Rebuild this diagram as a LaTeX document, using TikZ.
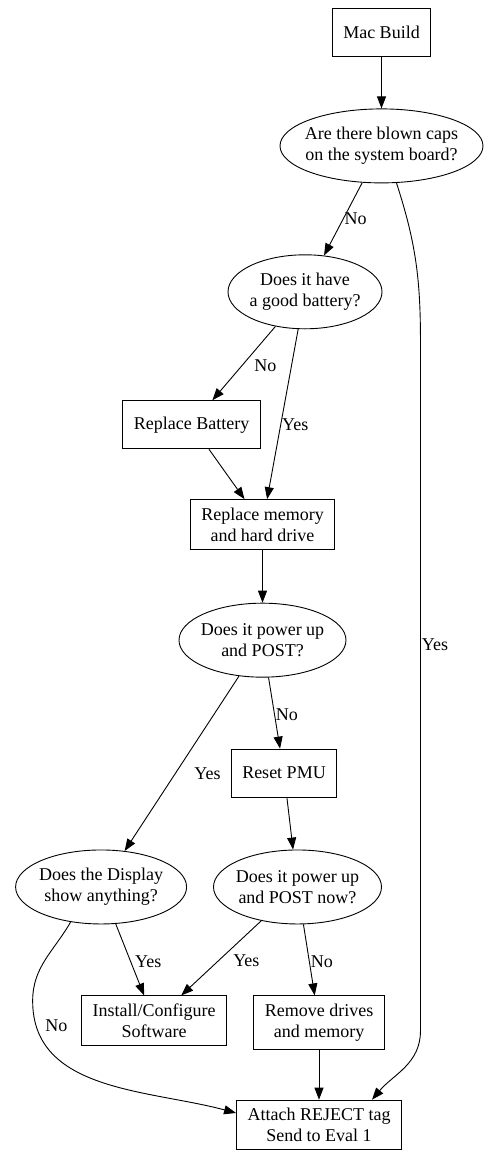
\documentclass[tikz,border=0pt]{standalone}
\usepackage{fontspec}
\setmainfont{Liberation Serif}
\usetikzlibrary{shapes.geometric, arrows.meta, positioning}

\begin{document}
\begin{tikzpicture}[
    every node/.style={font=\fontsize{18pt}{21pt}\selectfont},
    stepbox/.style={draw, rectangle, align=center, inner xsep=11pt, inner ysep=8pt, minimum height=48pt, line width=0.9pt},
    question/.style={draw, ellipse, inner sep=0pt, minimum height=74pt, line width=0.9pt, label={[align=center]center:#1}},
    link/.style={-{Triangle[length=12pt, width=9pt]}, line width=0.9pt},
    answer/.style={inner sep=1pt}
]
    \useasboundingbox (0,0) rectangle (491pt,-1159pt);

    \node[stepbox] (mac) at (381.5pt,-32pt) {Mac Build};
    \node[question={Are there blown caps\\on the system board?}, minimum width=203pt, below=52pt of mac] (caps) {};
    \node[question={Does it have\\a good battery?}, minimum width=154pt, below=71pt of caps, xshift=-76.5pt] (battery) {};
    \node[stepbox, below=71pt of battery, xshift=-113.5pt] (replbat) {Replace Battery};
    \node[stepbox, below=50pt of replbat, xshift=71pt] (replmem) {Replace memory\\and hard drive};
    \node[question={Does it power up\\and POST?}, minimum width=167pt, below=53pt of replmem] (power) {};
    \node[stepbox, below=71pt of power, xshift=21.5pt] (pmu) {Reset PMU};
    \node[question={Does it power up\\and POST now?}, minimum width=168pt, below=52pt of pmu, xshift=13.5pt] (powernow) {};
    \node[question={Does the Display\\show anything?}, minimum width=171pt, left=26pt of powernow] (display) {};
    \node[stepbox, below=71pt of display, xshift=53pt] (install) {Install/Configure\\Software};
    \node[stepbox, below=71pt of powernow, xshift=21.5pt] (remove) {Remove drives\\and memory};
    \node[stepbox, below=50pt of remove] (attach) {Attach REJECT tag\\Send to Eval 1};

    \draw[link] (mac) -- (caps);
    \draw[link] (caps) -- node[answer, right, pos=0.5] {No} (battery);
    \draw[link] (battery) -- node[answer, right=11pt, pos=0.53] {No} (replbat);
    \draw[link] (battery) -- node[answer, right, pos=0.56] {Yes} (replmem);
    \draw[link] (replbat) -- (replmem);
    \draw[link] (replmem) -- (power);
    \draw[link] (power) -- node[answer, right, pos=0.52] {No} (pmu);
    \draw[link] (power) -- node[answer, right=18pt, pos=0.56] {Yes} (display);
    \draw[link] (pmu) -- (powernow);
    \draw[link] (display) -- node[answer, right=3pt, pos=0.53] {Yes} (install);
    \draw[link] (powernow) -- node[answer, right=13pt, pos=0.53] {Yes} (install);
    \draw[link] (powernow) -- node[answer, right, pos=0.53] {No} (remove);
    \draw[link] (remove) -- (attach);
    \draw[link] (caps.292) to[out=-72, in=90] ++(24pt,-158pt)
        -- node[answer, right, pos=0.44] {Yes} ++(0,-690pt)
        to[out=-90, in=50] ([xshift=53pt]attach.north);
    \draw[link] (display.229) to[out=240, in=90] ++(-38pt,-79pt)
        to[out=-90, in=165] node[answer, right=8pt, pos=0.1] {No} ([yshift=12pt]attach.west);
\end{tikzpicture}
\end{document}
